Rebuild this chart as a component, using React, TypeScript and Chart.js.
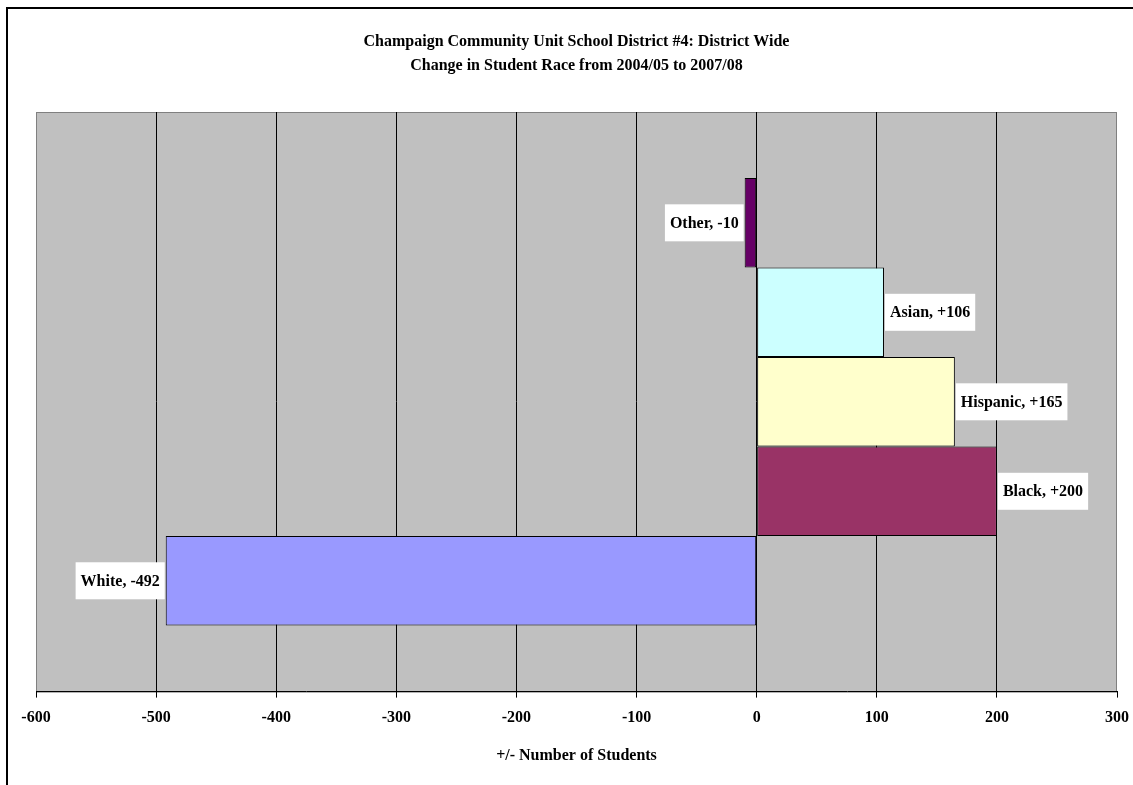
import React, { useEffect, useRef } from "react";
import { Chart, registerables } from "chart.js";

Chart.register(...registerables);

// Top-to-bottom order as drawn
const categories = ["Other", "Asian", "Hispanic", "Black", "White"];
const values = [-10, 106, 165, 200, -492];
const colors = ["#660066", "#CCFFFF", "#FFFFCC", "#993366", "#9999FF"];
const titleLines = [
  "Champaign Community Unit School District #4: District Wide",
  "Change in Student Race from 2004/05 to 2007/08",
];
const xAxisTitle = "+/- Number of Students";
const xMin = -600;
const xMax = 300;
const xStep = 100;

const FONT = "'Liberation Serif', 'Times New Roman', serif";

const plotBg = {
  id: "plotBg",
  beforeDraw(chart: any) {
    const { ctx, chartArea: a } = chart;
    ctx.save();
    ctx.fillStyle = "#C0C0C0";
    ctx.fillRect(a.left, a.top, a.right - a.left, a.bottom - a.top);
    ctx.strokeStyle = "#808080";
    ctx.lineWidth = 1;
    ctx.strokeRect(a.left + 0.5, a.top + 0.5, a.right - a.left - 1, a.bottom - a.top);
    ctx.restore();
  },
};

const barLabels = {
  id: "barLabels",
  afterDatasetsDraw(chart: any) {
    const { ctx } = chart;
    ctx.save();
    ctx.font = `bold 16px ${FONT}`;
    ctx.textBaseline = "middle";
    ctx.textAlign = "center";
    chart.data.datasets.forEach((ds: any, i: number) => {
      const meta = chart.getDatasetMeta(i);
      const el: any = meta.data[0];
      if (!el) return;
      const v = ds.data[0] as number;
      const text = `${ds.label}, ${v > 0 ? "+" : ""}${v}`;
      const tw = ctx.measureText(text).width;
      const bw = tw + 10;
      const bh = 37;
      const left = v >= 0 ? el.x + 1 : el.x - 1 - bw;
      const top = el.y - bh / 2;
      ctx.fillStyle = "#FFFFFF";
      ctx.fillRect(left, top, bw, bh);
      ctx.fillStyle = "#000000";
      ctx.fillText(text, left + bw / 2, el.y + 1);
    });
    ctx.restore();
  },
};

export default function App() {
  const ref = useRef<HTMLCanvasElement>(null);
  useEffect(() => {
    if (!ref.current) return;
    const chart = new Chart(ref.current, {
      type: "bar",
      data: {
        labels: [""],
        datasets: categories.map((c, i) => ({
          label: c,
          data: [values[i]],
          backgroundColor: colors[i],
          borderColor: "#000000",
          borderWidth: 1,
          borderSkipped: false,
          barPercentage: 1,
          categoryPercentage: 0.772,
        })),
      },
      options: {
        indexAxis: "y",
        animation: false,
        responsive: false,
        layout: { padding: { left: 36, right: 16, top: 0, bottom: 20 } },
        plugins: {
          legend: { display: false },
          tooltip: { enabled: false },
          title: {
            display: true,
            text: titleLines,
            color: "#000000",
            font: { family: FONT, size: 16, weight: "bold", lineHeight: 1.5 },
            padding: { top: 30, bottom: 34 },
          },
        },
        scales: {
          y: { display: false },
          x: {
            min: xMin,
            max: xMax,
            afterFit: (scale: any) => {
              scale.paddingLeft = 0;
              scale.paddingRight = 0;
            },
            border: { display: true, color: "#000000", width: 1 },
            grid: {
              color: (c: any) =>
                c.tick && (c.tick.value === xMin || c.tick.value === xMax) ? "rgba(0,0,0,0)" : "#000000",
              tickColor: "#000000",
              tickLength: 6,
              lineWidth: 1,
            },
            ticks: {
              stepSize: xStep,
              color: "#000000",
              padding: 11,
              font: { family: FONT, size: 16, weight: "bold" },
            },
            title: {
              display: true,
              text: xAxisTitle,
              color: "#000000",
              font: { family: FONT, size: 16, weight: "bold" },
              padding: { top: 7, bottom: 0 },
            },
          },
        },
      },
      plugins: [plotBg, barLabels],
    });
    return () => chart.destroy();
  }, []);

  return (
    <div style={{ position: "fixed", left: 0, top: 0, width: 1133, height: 785, overflow: "hidden", background: "#fff" }}>
      <div
        style={{
          position: "absolute",
          left: 6,
          top: 7,
          width: 1150,
          height: 800,
          borderLeft: "2px solid #000",
          borderTop: "2px solid #000",
          boxSizing: "border-box",
        }}
      />
      <canvas ref={ref} width={1133} height={785} style={{ position: "absolute", left: 0, top: 0 }} />
    </div>
  );
}
